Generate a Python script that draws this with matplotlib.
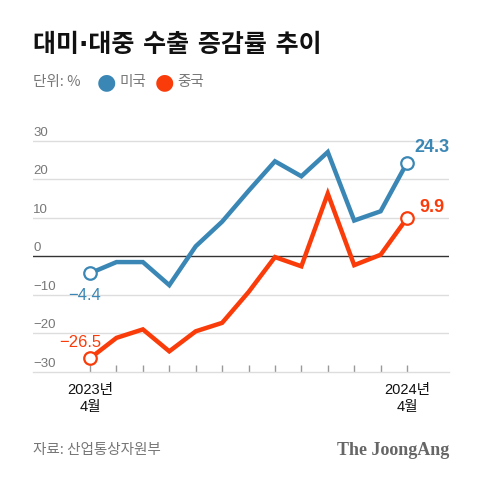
"""
대미·대중 수출 증감률 추이
"""

import matplotlib
matplotlib.use('Agg')
from matplotlib import pyplot as plt
from matplotlib.transforms import blended_transform_factory

plt.rcParams['font.family'] = ['Noto Sans CJK KR', 'DejaVu Sans']

months = list(range(13))  # 2023년 4월 ~ 2024년 4월
usa = [-4.4, -1.5, -1.5, -7.5, 2.6, 9.0, 17.0, 24.7, 20.8, 27.1, 9.3, 11.7, 24.3]
china = [-26.5, -21.2, -19.0, -24.7, -19.5, -17.3, -9.3, -0.2, -2.6, 16.3, -2.3, 0.4, 9.9]
y_ticks = [-30, -20, -10, 0, 10, 20, 30]
x_labels = {0: '2023년\n4월', 12: '2024년\n4월'}

BLUE = '#3a87b5'
RED = '#fa3c0a'
GRAY = '#777777'
GRID = '#dddddd'


def plot():
    fig = plt.figure(figsize=(4.8, 4.82), dpi=100)
    ax = fig.add_axes([0.06875, 0.2288, 0.8667, 0.522])

    ax.set_xlim(-2.16, 13.59)
    ax.set_ylim(-30, 35.4)

    for v in y_ticks:
        if v == 0:
            ax.axhline(v, color='#333333', lw=1.0, zorder=2)
        elif v != -30:
            ax.axhline(v, color=GRID, lw=1.0, zorder=1)
    trans = blended_transform_factory(ax.transAxes, ax.transData)
    for v in y_ticks:
        lab = str(v).replace('-', '\u2212')
        ax.text(0.0, v + 0.5, lab, transform=trans, ha='left', va='bottom',
                fontsize=9.5, color=GRAY, family=['Liberation Sans', 'DejaVu Sans'])

    for vals, col in [(usa, BLUE), (china, RED)]:
        ax.plot(months, vals, color=col, lw=3.2, solid_joinstyle='miter',
                solid_capstyle='butt', zorder=3)
        ax.plot([months[0], months[-1]], [vals[0], vals[-1]], 'o', ms=9,
                mfc='white', mec=col, mew=1.6, zorder=4, clip_on=False)

    ann = dict(family=['Liberation Sans', 'DejaVu Sans'])
    ax.annotate('\u22124.4', (months[0], usa[0]), xytext=(-4, -16),
                textcoords='offset points', ha='center', va='center',
                fontsize=12, color=BLUE, **ann)
    ax.annotate('\u221226.5', (months[0], china[0]), xytext=(-7, 11),
                textcoords='offset points', ha='center', va='center',
                fontsize=12, color=RED, **ann)
    ax.annotate('24.3', (months[-1], usa[-1]), xytext=(18, 11),
                textcoords='offset points', ha='center', va='center',
                fontsize=13, color=BLUE, fontweight='bold', **ann)
    ax.annotate('9.9', (months[-1], china[-1]), xytext=(18, 8),
                textcoords='offset points', ha='center', va='center',
                fontsize=13, color=RED, fontweight='bold', **ann)

    for s in ['top', 'right', 'left']:
        ax.spines[s].set_visible(False)
    ax.spines['bottom'].set_color(GRID)
    ax.spines['bottom'].set_linewidth(1.0)
    ax.set_yticks([])
    ax.set_xticks(months)
    ax.set_xticklabels([x_labels.get(m, '') for m in months], fontsize=10.5,
                       color='#111111', linespacing=1.25,
                       family=['Liberation Sans', 'Noto Sans CJK KR'])
    ax.tick_params(axis='x', direction='in', length=5, width=1,
                   color='#999999', pad=8)

    fig.text(0.06875, 0.906, '대미·대중 수출 증감률 추이', fontsize=18,
             fontweight='heavy', color='#111111', va='center',
             family=['DejaVu Sans', 'Noto Sans CJK KR'])
    fig.text(0.06875, 0.830, '단위: %', fontsize=10.5, color=GRAY, va='center')
    fig.text(0.2215, 0.830, '\u25cf', fontsize=16, color=BLUE, va='center',
             ha='center', family='DejaVu Sans')
    fig.text(0.248, 0.830, '미국', fontsize=10.5, color=GRAY, va='center')
    fig.text(0.343, 0.830, '\u25cf', fontsize=16, color=RED, va='center',
             ha='center', family='DejaVu Sans')
    fig.text(0.370, 0.830, '중국', fontsize=10.5, color=GRAY, va='center')

    fig.text(0.06875, 0.066, '자료: 산업통상자원부', fontsize=10.5, color=GRAY,
             va='center')
    fig.text(0.9354, 0.066, 'The JoongAng', fontsize=13, color='#666666',
             va='center', ha='right', fontweight='bold',
             family='Liberation Serif')

    fig.savefig('out.png', dpi=100)


if __name__ == '__main__':
    plot()
